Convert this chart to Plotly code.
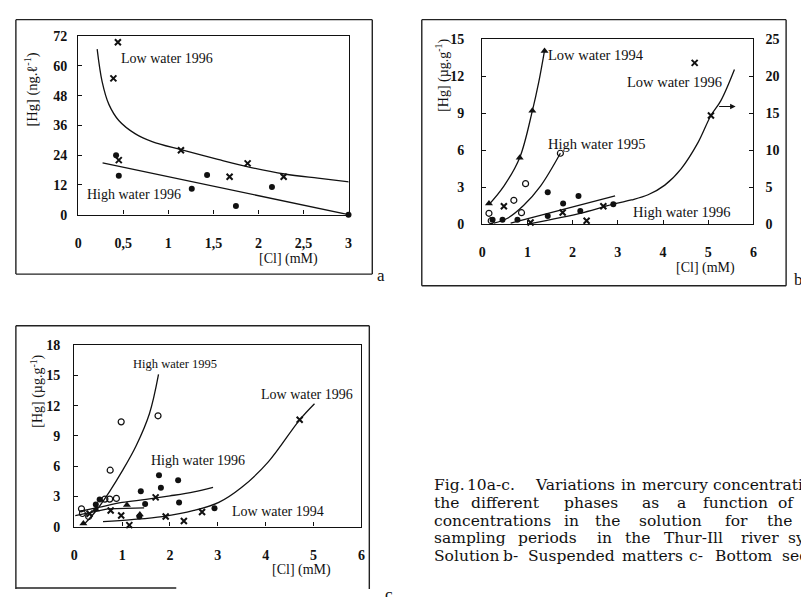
import plotly.graph_objects as go

# ---------------- data ----------------
# Panel a : solution
a_low96_x = [0.44, 0.39, 0.45, 1.14, 1.68, 1.88, 2.28]
a_low96_y = [69.6, 55.0, 22.0, 26.0, 15.3, 20.7, 15.3]
a_high96_x = [0.42, 0.45, 1.26, 1.43, 1.75, 2.15, 3.0]
a_high96_y = [24.0, 15.7, 10.5, 16.0, 3.5, 11.2, 0.0]
a_low96_fit_x = [0.21, 0.265, 0.34, 0.45, 0.63, 0.82, 1.14, 1.55, 1.92, 2.29, 2.66, 3.04]
a_low96_fit_y = [66.8, 53.7, 44.5, 38.0, 32.7, 29.5, 26.2, 22.3, 19.0, 16.4, 14.7, 13.1]
a_high96_fit_x = [0.27, 3.0]
a_high96_fit_y = [20.9, 0.0]
a_xticks = [0, 0.5, 1, 1.5, 2, 2.5, 3]
a_xticktext = ["0", "0,5", "1", "1,5", "2", "2,5", "3"]
a_yticks = [0, 12, 24, 36, 48, 60, 72]

# Panel b : suspended matters
b_low94_x = [0.15, 0.83, 1.11, 1.38]
b_low94_y = [1.7, 5.4, 9.2, 14.05]
b_low94_fit_x = [0.15, 0.48, 0.83, 1.11, 1.25, 1.38]
b_low94_fit_y = [1.6, 3.1, 5.4, 9.2, 11.5, 14.1]
b_high95_x = [0.15, 0.2, 0.70, 0.87, 0.96, 1.73]
b_high95_y = [0.9, 0.3, 1.95, 0.95, 3.3, 5.76]
b_high95_fit_x = [0.26, 0.56, 0.92, 1.29, 1.73]
b_high95_fit_y = [0.1, 0.5, 1.55, 3.1, 5.76]
b_high96_x = [0.23, 0.45, 0.78, 1.45, 1.45, 1.79, 2.13, 2.17, 2.90]
b_high96_y = [0.37, 0.37, 0.37, 2.6, 0.69, 1.7, 2.3, 1.08, 1.63]
b_high96_fit_x = [0.63, 2.94]
b_high96_fit_y = [0.1, 2.3]
b_low96_x = [0.48, 1.07, 1.78, 2.31, 2.68, 4.70, 5.06]        # right axis
b_low96_y = [2.46, 0.26, 1.6, 0.5, 2.46, 21.8, 14.7]
b_low96_fit_x = [1.0, 2.24, 2.94, 3.30, 3.67, 4.04, 4.40, 4.77, 5.06, 5.28, 5.58]
b_low96_fit_y = [0.04, 1.6, 2.8, 3.3, 4.0, 5.3, 7.5, 11.0, 14.7, 16.7, 20.9]
b_xticks = [0, 1, 2, 3, 4, 5, 6]
b_yticks = [0, 3, 6, 9, 12, 15]
b_y2ticks = [0, 5, 10, 15, 20, 25]

# Panel c : bottom sediments
c_high95_x = [0.15, 0.17, 0.3, 0.64, 0.74, 0.88, 0.75, 0.98, 1.75]
c_high95_y = [1.77, 1.3, 1.0, 2.73, 2.73, 2.8, 5.6, 10.4, 11.0]
c_high95_fit_x = [0.22, 0.46, 0.74, 1.0, 1.29, 1.57, 1.76]
c_high95_fit_y = [0.3, 1.6, 3.5, 5.5, 8.0, 11.2, 15.1]
c_high96_x = [0.45, 0.53, 1.36, 1.39, 1.48, 1.77, 1.81, 2.17, 2.19, 2.93]
c_high96_y = [2.2, 2.7, 1.0, 3.5, 2.25, 5.1, 3.86, 4.6, 2.4, 1.83]
c_high96_fit_x = [0.1, 0.5, 1.0, 1.5, 2.0, 2.5, 2.9]
c_high96_fit_y = [1.5, 1.9, 2.4, 2.7, 3.05, 3.45, 3.9]
c_low96_x = [0.32, 0.76, 0.98, 1.15, 1.70, 1.91, 2.29, 2.67, 4.71]
c_low96_y = [1.28, 1.6, 1.1, 0.15, 2.9, 1.0, 0.55, 1.45, 10.6]
c_low96_fit_x = [0.6, 1.2, 1.84, 2.5, 3.02, 3.5, 4.05, 4.71, 5.02]
c_low96_fit_y = [0.5, 0.7, 1.0, 1.6, 2.4, 3.9, 6.4, 10.6, 12.2]
c_low94_x = [0.19, 0.45, 1.10, 1.37]
c_low94_y = [0.3, 1.7, 2.15, 1.2]
c_low94_fit_x = [0.02, 0.7, 1.46]
c_low94_fit_y = [1.1, 1.77, 1.86]
c_xticks = [0, 1, 2, 3, 4, 5, 6]
c_yticks = [0, 3, 6, 9, 12, 15, 18]

caption_words = [
    ["Fig.", "10a-c.", "Variations", "in", "mercury", "concentrations"],
    ["the", "different", "phases", "as", "a", "function", "of"],
    ["concentrations", "in", "the", "solution", "for", "the"],
    ["sampling", "periods", "in", "the", "Thur-Ill", "river", "system."],
    ["Solution", "b-", "Suspended", "matters", "c-", "Bottom", "sediments"],
]

# ---------------- helpers ----------------
W, H = 801, 597
INK = "#111111"
SERIF = "Liberation Serif"


def fx(p):
    return p / W


def fy(p):
    return 1 - p / H


fig = go.Figure()

mk_cross = dict(symbol="x-thin", size=6, line=dict(width=2, color=INK), color=INK)
mk_dot = dict(symbol="circle", size=6, color=INK)
mk_open = dict(symbol="circle-open", size=6, line=dict(width=1.2, color=INK), color=INK)
mk_tri = dict(symbol="triangle-up", size=7, color=INK)
ln = dict(color=INK, width=1.3)


def pts(x, y, marker, xa, ya):
    fig.add_trace(go.Scatter(x=x, y=y, mode="markers", marker=marker,
                             xaxis=xa, yaxis=ya, showlegend=False, cliponaxis=False))


def curve(x, y, xa, ya, shape="spline"):
    fig.add_trace(go.Scatter(x=x, y=y, mode="lines", line=dict(shape=shape, **ln),
                             xaxis=xa, yaxis=ya, showlegend=False))

# panel a
curve(a_low96_fit_x, a_low96_fit_y, "x", "y")
curve(a_high96_fit_x, a_high96_fit_y, "x", "y", "linear")
pts(a_low96_x, a_low96_y, mk_cross, "x", "y")
pts(a_high96_x, a_high96_y, mk_dot, "x", "y")

# panel b
curve(b_low94_fit_x, b_low94_fit_y, "x2", "y2")
curve(b_high95_fit_x, b_high95_fit_y, "x2", "y2")
curve(b_high96_fit_x, b_high96_fit_y, "x2", "y2", "linear")
curve(b_low96_fit_x, b_low96_fit_y, "x2", "y3")
pts(b_low94_x, b_low94_y, mk_tri, "x2", "y2")
pts(b_high95_x, b_high95_y, mk_open, "x2", "y2")
pts(b_high96_x, b_high96_y, mk_dot, "x2", "y2")
pts(b_low96_x, b_low96_y, mk_cross, "x2", "y3")

# panel c
curve(c_high95_fit_x, c_high95_fit_y, "x4", "y4")
curve(c_high96_fit_x, c_high96_fit_y, "x4", "y4")
curve(c_low96_fit_x, c_low96_fit_y, "x4", "y4")
curve(c_low94_fit_x, c_low94_fit_y, "x4", "y4", "linear")
pts(c_high95_x, c_high95_y, mk_open, "x4", "y4")
pts(c_high96_x, c_high96_y, mk_dot, "x4", "y4")
pts(c_low96_x, c_low96_y, mk_cross, "x4", "y4")
pts(c_low94_x, c_low94_y, mk_tri, "x4", "y4")

tickfont = dict(family=SERIF, size=14, color=INK, weight="bold")
axcommon = dict(showline=True, linecolor=INK, linewidth=1.3, ticks="inside", ticklen=4,
                tickcolor=INK, showgrid=False, zeroline=False, tickfont=tickfont,
                fixedrange=True)

fig.update_layout(
    width=W, height=H, margin=dict(l=0, r=0, t=0, b=0),
    paper_bgcolor="white", plot_bgcolor="white", showlegend=False,
    xaxis=dict(domain=[fx(75), fx(348)], range=[0, 3], anchor="y", mirror=True,
               tickvals=a_xticks, ticktext=a_xticktext, ticklabelstandoff=15, **axcommon),
    yaxis=dict(domain=[fy(213), fy(30)], range=[0, 72], anchor="x", mirror=True,
               tickvals=a_yticks, ticklabelstandoff=7, **axcommon),
    xaxis2=dict(domain=[fx(483), fx(757)], range=[0, 6], anchor="y2", mirror=True,
                tickvals=b_xticks, ticklabelstandoff=15, **axcommon),
    yaxis2=dict(domain=[fy(223), fy(33)], range=[0, 15], anchor="x2",
                tickvals=b_yticks, ticklabelstandoff=14, **axcommon),
    yaxis3=dict(range=[0, 25], overlaying="y2", anchor="x2", side="right",
                tickvals=b_y2ticks, ticklabelstandoff=8, **axcommon),
    xaxis4=dict(domain=[fx(71), fx(361)], range=[0, 6], anchor="y4", mirror=True,
                tickvals=c_xticks, ticklabelstandoff=15, **axcommon),
    yaxis4=dict(domain=[fy(533), fy(347)], range=[0, 18], anchor="x4", mirror=True,
                tickvals=c_yticks, ticklabelstandoff=10, **axcommon),
)

anns = []


def lab(text, x, y, xr, yr, size=14, xanchor="left"):
    anns.append(dict(text=text, x=x, y=y, xref=xr, yref=yr, showarrow=False,
                     xanchor=xanchor, yanchor="middle",
                     font=dict(family=SERIF, size=size, color=INK)))

# series labels (data coordinates)
lab("Low water 1996", 0.45, 63, "x", "y")
lab("High water 1996", 0.07, 8.3, "x", "y")
lab("Low water 1994", 1.41, 13.7, "x2", "y2", 14.5)
lab("Low water 1996", 3.16, 11.5, "x2", "y2", 14.5)
lab("High water 1995", 1.41, 6.55, "x2", "y2", 14.5)
lab("High water 1996", 3.30, 1.03, "x2", "y2", 14.5)
lab("High water 1995", 1.18, 16.1, "x4", "y4", 12.5)
lab("Low water 1996", 3.87, 13.15, "x4", "y4", 14)
lab("High water 1996", 1.57, 6.6, "x4", "y4", 14)
lab("Low water 1994", 3.25, 1.5, "x4", "y4", 14)


def ptext(text, x, y, size=14, angle=0, xanchor="center", family=SERIF, weight="normal"):
    anns.append(dict(text=text, x=fx(x), y=fy(y), xref="paper", yref="paper",
                     showarrow=False, xanchor=xanchor, yanchor="middle", textangle=angle,
                     font=dict(family=family, size=size, color=INK, weight=weight)))

# axis titles
ptext("[Cl] (mM)", 287, 259, 14)
ptext("[Cl] (mM)", 709, 268, 14)
ptext("[Cl] (mM)", 300, 578, 14)
ptext("[Hg] (ng.ℓ<sup>-1</sup>)", 28, 85, 14.5, -90)
ptext("[Hg] (µg.g<sup>-1</sup>)", 443, 70, 14, -90)
ptext("[Hg] (µg.g<sup>-1</sup>)", 33, 394, 14, -90)
# panel letters
ptext("a", 381, 275, 17)
ptext("b", 796, 280, 17, xanchor="left")
ptext("c", 389, 603, 17)

# caption: justified words, left edges of each word in pixels
cap_left = [
    [432, 466, 534, 621, 642, 714],
    [432, 470, 564, 642, 678, 704, 780],
    [432, 564, 595, 639, 726, 769],
    [432, 517, 597, 625, 665, 742, 790],
    [432, 502, 527, 622, 690, 716, 784],
]
cap_y = [490, 509, 527, 545, 563]
for words, lefts, yy in zip(caption_words, cap_left, cap_y):
    for w, xl in zip(words, lefts):
        ptext(w, xl, yy, 15.5, xanchor="left", family="DejaVu Serif")

# arrow to right axis (panel b)
anns.append(dict(x=fx(739), y=fy(102), ax=-18, ay=0, xref="paper", yref="paper",
                 showarrow=True, arrowhead=2, arrowsize=1,
                 arrowwidth=1.1, arrowcolor=INK, text=""))
fig.update_layout(annotations=anns)

# outer frames
frame = dict(color="#222222", width=1.4)
shapes = []


def seg(x0, y0, x1, y1):
    shapes.append(dict(type="line", xref="paper", yref="paper", x0=fx(x0), y0=fy(y0),
                       x1=fx(x1), y1=fy(y1), line=frame))

seg(12, 13, 372, 13); seg(12, 13, 12, 274); seg(372, 13, 372, 274); seg(12, 274, 372, 274)
seg(422, 13, 790, 13); seg(422, 13, 422, 286); seg(790, 13, 790, 286); seg(422, 286, 790, 286)
seg(12, 327, 369, 327); seg(12, 327, 12, 597); seg(369, 327, 369, 597); seg(12, 596, 174, 596)
fig.update_layout(shapes=shapes)

fig.write_html("out.html")
